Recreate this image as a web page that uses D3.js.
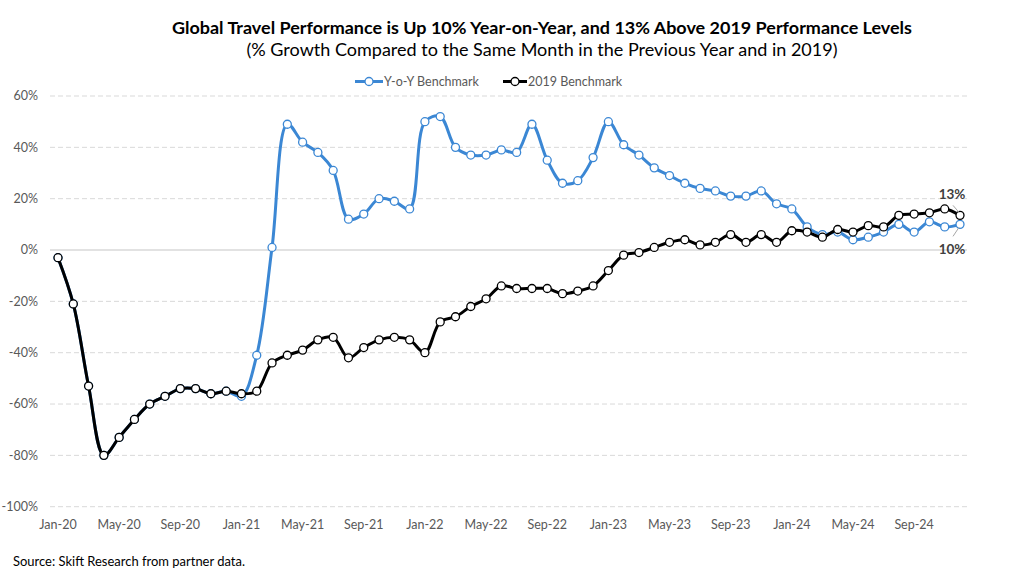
<!DOCTYPE html>
<html>
<head>
<meta charset="utf-8">
<script src="https://cdn.jsdelivr.net/npm/d3@7"></script>
<style>
  html, body { margin: 0; padding: 0; background: #fff; }
  svg { display: block; font-family: Lato, "Open Sans", sans-serif; }
</style>
</head>
<body>
<svg id="chart" width="1023" height="578"></svg>
<script>
const months = [
  "Jan-20","Feb-20","Mar-20","Apr-20","May-20","Jun-20","Jul-20","Aug-20","Sep-20","Oct-20","Nov-20","Dec-20",
  "Jan-21","Feb-21","Mar-21","Apr-21","May-21","Jun-21","Jul-21","Aug-21","Sep-21","Oct-21","Nov-21","Dec-21",
  "Jan-22","Feb-22","Mar-22","Apr-22","May-22","Jun-22","Jul-22","Aug-22","Sep-22","Oct-22","Nov-22","Dec-22",
  "Jan-23","Feb-23","Mar-23","Apr-23","May-23","Jun-23","Jul-23","Aug-23","Sep-23","Oct-23","Nov-23","Dec-23",
  "Jan-24","Feb-24","Mar-24","Apr-24","May-24","Jun-24","Jul-24","Aug-24","Sep-24","Oct-24","Nov-24","Dec-24"
];
const yoyValues = [
  -3,-21,-53,-80,-73,-66,-60,-57,-54,-54,-56,-55,
  -57,-41,1,49,42,38,31,12,14,20,19,16,
  50,52,40,37,37,39,38,49,35,26,27,36,
  50,41,37,32,29,26,24,23,21,21,23,18,
  16,9,6,7,4,5,7,10,7,11,9,10
];
const vs2019Values = [
  -3,-21,-53,-80,-73,-66,-60,-57,-54,-54,-56,-55,
  -56,-55,-44,-41,-39,-35,-34,-42,-38,-35,-34,-35,
  -40,-28,-26,-22,-19,-14,-15,-15,-15,-17,-16,-14,
  -8,-2,-1,1,3,4,2,3,6,3,6,3,
  7.5,7,5,8,7,9.5,9,13.5,14,14.5,16,13.5
];
const yTicks = [60,40,20,0,-20,-40,-60,-80,-100];
const xTickLabels = ["Jan-20","May-20","Sep-20","Jan-21","May-21","Sep-21","Jan-22","May-22","Sep-22","Jan-23","May-23","Sep-23","Jan-24","May-24","Sep-24"];
const seriesNames = ["Y-o-Y Benchmark","2019 Benchmark"];
const endLabels = ["13%","10%"];
const titleText = "Global Travel Performance is Up 10% Year-on-Year, and 13% Above 2019 Performance Levels";
const subtitleText = "(% Growth Compared to the Same Month in the Previous Year and in 2019)";
const sourceText = "Source: Skift Research from partner data.";

const BLUE = "#3b87d4", BLACK = "#000000";
const svg = d3.select("#chart");

const plotLeft = 50, plotRight = 967;
const x = d3.scalePoint().domain(months).range([58, 960]);
const y = d3.scaleLinear().domain([-100, 60]).range([506.7, 96]);

// Title
svg.append("text").attr("x", 542).attr("y", 34).attr("text-anchor", "middle")
  .attr("font-weight", "bold").attr("font-size", 17).attr("fill", "#000")
  .attr("textLength", 740).attr("lengthAdjust", "spacingAndGlyphs").text(titleText);
svg.append("text").attr("x", 542).attr("y", 56).attr("text-anchor", "middle")
  .attr("font-size", 17).attr("fill", "#000")
  .attr("textLength", 591).attr("lengthAdjust", "spacingAndGlyphs").text(subtitleText);

// Gridlines
svg.append("g").selectAll("line").data(yTicks).join("line")
  .attr("x1", plotLeft).attr("x2", plotRight)
  .attr("y1", d => y(d)).attr("y2", d => y(d))
  .attr("stroke", "#d9d9d9").attr("stroke-width", d => d === 0 ? 1.5 : 1)
  .attr("stroke-dasharray", d => d === 0 ? null : "5,3");

// Y axis labels
svg.append("g").selectAll("text").data(yTicks).join("text")
  .attr("x", 38).attr("y", d => y(d)).attr("dy", "0.35em")
  .attr("text-anchor", "end").attr("font-size", 12.5).attr("fill", "#595959")
  .text(d => d + "%");

// X axis labels
svg.append("g").selectAll("text").data(xTickLabels).join("text")
  .attr("x", d => x(d)).attr("y", 529)
  .attr("text-anchor", "middle").attr("font-size", 12.5).attr("fill", "#595959")
  .text(d => d);

// Lines
const line = d3.line().x((d, i) => x(months[i])).y(d => y(d)).curve(d3.curveCatmullRom.alpha(0.5));
const series = [
  { name: seriesNames[0], values: yoyValues, color: BLUE },
  { name: seriesNames[1], values: vs2019Values, color: BLACK }
];
series.forEach(s => {
  const g = svg.append("g");
  g.append("path").attr("d", line(s.values)).attr("fill", "none")
    .attr("stroke", s.color).attr("stroke-width", 3).attr("stroke-linejoin", "round");
  g.selectAll("circle").data(s.values).join("circle")
    .attr("cx", (d, i) => x(months[i])).attr("cy", d => y(d)).attr("r", 4)
    .attr("fill", "#fff").attr("stroke", s.color).attr("stroke-width", 1.3);
});

// End labels with leader lines
const last = months.length - 1;
const bx = x(months[last]), byBlack = y(vs2019Values[last]), byBlue = y(yoyValues[last]);
svg.append("line").attr("x1", bx - 7).attr("y1", byBlack - 10).attr("x2", bx - 1).attr("y2", byBlack - 3)
  .attr("stroke", "#a6a6a6").attr("stroke-width", 1);
svg.append("line").attr("x1", bx - 1).attr("y1", byBlue + 3).attr("x2", bx - 7).attr("y2", byBlue + 12)
  .attr("stroke", "#a6a6a6").attr("stroke-width", 1);
svg.append("text").attr("x", bx - 8).attr("y", byBlack - 16).attr("text-anchor", "middle")
  .attr("font-weight", "bold").attr("font-size", 13.5).attr("fill", "#404040").text(endLabels[0]);
svg.append("text").attr("x", bx - 8).attr("y", byBlue + 30).attr("text-anchor", "middle")
  .attr("font-weight", "bold").attr("font-size", 13.5).attr("fill", "#404040").text(endLabels[1]);

// Legend
const legendItems = [
  { name: seriesNames[0], color: BLUE, x0: 355, x1: 383 },
  { name: seriesNames[1], color: BLACK, x0: 503, x1: 527 }
];
const ly = 81.5;
legendItems.forEach(l => {
  svg.append("line").attr("x1", l.x0).attr("x2", l.x1).attr("y1", ly).attr("y2", ly)
    .attr("stroke", l.color).attr("stroke-width", 3);
  svg.append("circle").attr("cx", (l.x0 + l.x1) / 2).attr("cy", ly).attr("r", 4)
    .attr("fill", "#fff").attr("stroke", l.color).attr("stroke-width", 1.3);
  svg.append("text").attr("x", l.x1 + 1).attr("y", ly).attr("dy", "0.35em")
    .attr("font-size", 12.5).attr("fill", "#595959").text(l.name);
});

// Source
svg.append("text").attr("x", 13).attr("y", 566).attr("font-size", 13).attr("fill", "#000")
  .attr("textLength", 232).attr("lengthAdjust", "spacingAndGlyphs").text(sourceText);
</script>
</body>
</html>
